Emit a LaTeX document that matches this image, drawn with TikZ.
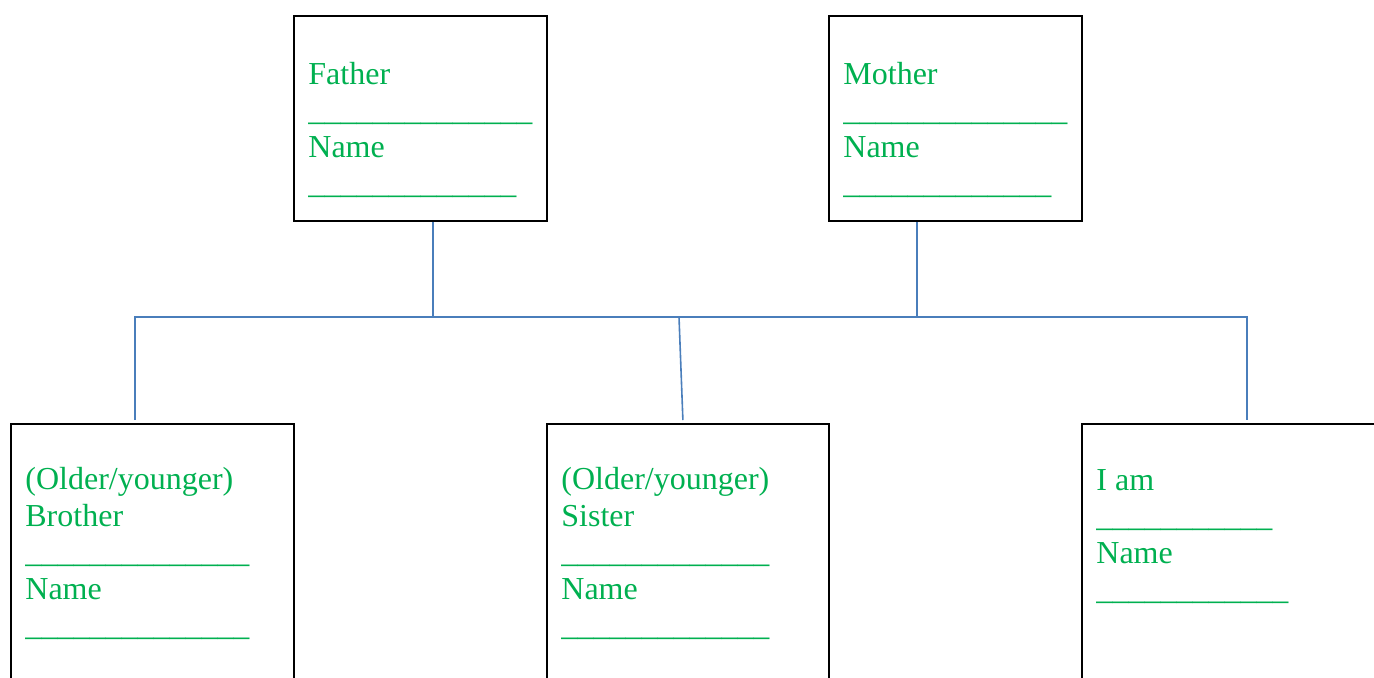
\documentclass[tikz,border=0pt]{standalone}
\usepackage{fontspec}
\setmainfont{Liberation Serif}
\definecolor{txtgreen}{HTML}{00B050}
\definecolor{linkblue}{HTML}{4A7EBB}
\begin{document}
\begin{tikzpicture}[x=0.5pt,y=-0.5pt,
  box/.style={draw=black,line width=1pt,fill=none,anchor=north west,inner sep=0pt},
  label/.style={anchor=north west,inner sep=0pt,align=left,text=txtgreen,
    font=\fontsize{16}{18.25}\selectfont},
  conn/.style={draw=linkblue,line width=0.8pt}]
\useasboundingbox (0,0) rectangle (1374,677);
% boxes
\node[box,minimum width=126.5pt,minimum height=102.5pt] (F) at (293,15) {};
\node[box,minimum width=126.5pt,minimum height=102.5pt] (M) at (828,15) {};
\node[box,minimum width=141.5pt,minimum height=150pt] (B) at (10,423) {};
\node[box,minimum width=141pt,minimum height=150pt] (S) at (546,423) {};
\node[box,minimum width=170pt,minimum height=150pt] (I) at (1081,423) {};
% texts
\node[label] (Ft) at (308,58.5) {\strut Father\\ \_\_\_\_\_\_\_\_\_\_\_\_\_\_\\ Name\\ \_\_\_\_\_\_\_\_\_\_\_\_\_};
\node[label] (Mt) at (843,58.5) {\strut Mother\\ \_\_\_\_\_\_\_\_\_\_\_\_\_\_\\ Name\\ \_\_\_\_\_\_\_\_\_\_\_\_\_};
\node[label] (Bt) at (25,464) {\strut (Older/younger)\\ Brother\\ \_\_\_\_\_\_\_\_\_\_\_\_\_\_\\ Name\\ \_\_\_\_\_\_\_\_\_\_\_\_\_\_};
\node[label] (St) at (561,464) {\strut (Older/younger)\\ Sister\\ \_\_\_\_\_\_\_\_\_\_\_\_\_\\ Name\\ \_\_\_\_\_\_\_\_\_\_\_\_\_};
\node[label] (It) at (1096,464.5) {\strut I am\\ \_\_\_\_\_\_\_\_\_\_\_\\ Name\\ \_\_\_\_\_\_\_\_\_\_\_\_};
% junctions
\coordinate (fj) at (433,317);
\coordinate (mj) at (917,317);
\coordinate (bj) at (135,317);
\coordinate (sj) at (679,317);
\coordinate (ij) at (1247,317);
\coordinate (sc) at (681,370);
% connectors
\draw[conn] (F.south -| fj) -- (fj);
\draw[conn] (M.south -| mj) -- (mj);
\draw[conn,shorten <=1.5pt,shorten >=1.5pt] (B.north -| bj) -- (bj) -- (ij) -- (I.north -| ij);
\draw[conn,shorten >=1.5pt] (sj) .. controls (sc) .. ([xshift=2pt]S.north -| sj);
\end{tikzpicture}
\end{document}
